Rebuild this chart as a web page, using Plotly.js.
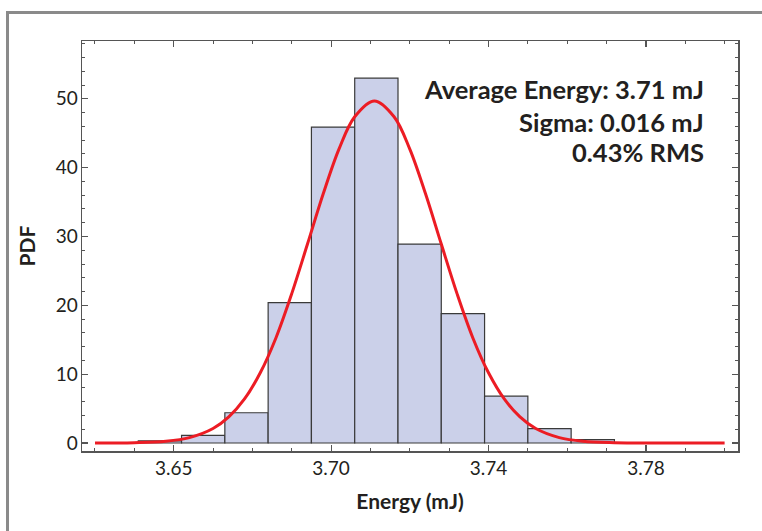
<!DOCTYPE html>
<html>
<head>
<meta charset="utf-8">
<script src="https://cdn.plot.ly/plotly-3.0.1.min.js"></script>
<style>
  html, body { margin: 0; padding: 0; background: #ffffff; }
  #wrap { position: relative; width: 762px; height: 531px; overflow: hidden; }
  #chart { position: absolute; left: 0; top: 0; width: 762px; height: 531px; }
  #panel { position: absolute; left: 6px; top: 11px; width: 800px; height: 600px;
           border-left: 3px solid #8a8a8a; border-top: 3px solid #8a8a8a; pointer-events: none; }
</style>
</head>
<body>
<div id="wrap">
  <div id="chart"></div>
  <div id="panel"></div>
</div>
<script>
// Histogram bins (left edges, mJ) and PDF heights
const binStart = [3.651, 3.662, 3.673, 3.684, 3.695, 3.706, 3.717, 3.728, 3.739, 3.750, 3.761];
const binWidth = 0.011;
const pdfValues = [0.3, 1.1, 4.4, 20.4, 45.9, 53.0, 28.9, 18.8, 6.8, 2.1, 0.5];

// Fitted curve
const fitX = [3.640, 3.650, 3.658, 3.664, 3.670, 3.674, 3.678, 3.682, 3.686, 3.690, 3.694, 3.698, 3.702, 3.706, 3.711,
              3.716, 3.720, 3.724, 3.728, 3.732, 3.736, 3.740, 3.744, 3.748, 3.752, 3.758, 3.764, 3.772, 3.782, 3.800];
const fitY = [0.0, 0.05, 0.25, 0.78, 2.1, 3.8, 6.4, 10.2, 15.3, 21.7, 28.9, 36.2, 42.7, 47.4, 49.7,
              47.4, 42.7, 36.2, 28.9, 21.7, 15.3, 10.2, 6.4, 3.8, 2.1, 0.78, 0.25, 0.05, 0.0, 0.0];

// Axis ticks
const xTickVals = [3.66, 3.70, 3.74, 3.78];
const xTickText = ['3.65', '3.70', '3.74', '3.78'];
const yTickVals = [0, 10, 20, 30, 40, 50];

// Statistics text
const statLines = ['Average Energy: 3.71 mJ', 'Sigma: 0.016 mJ', '0.43% RMS'];

const binCenters = binStart.map(s => s + binWidth / 2);

const FONT = 'Lato, "Open Sans", sans-serif';
const TXT = '#231f20';
const AX = '#555555';

const traces = [
  {
    type: 'bar',
    x: binCenters,
    y: pdfValues,
    width: binWidth,
    marker: { color: '#cbd0e9', line: { color: '#3a3a3a', width: 1.2 } },
    hoverinfo: 'x+y'
  },
  {
    type: 'scatter',
    mode: 'lines',
    x: fitX,
    y: fitY,
    line: { color: '#ec1c24', width: 3, shape: 'spline', smoothing: 1 },
    hoverinfo: 'x+y'
  }
];

const statY = [0.883, 0.8035, 0.729];

const layout = {
  width: 762,
  height: 531,
  margin: { l: 82, r: 24, t: 41, b: 80 },
  paper_bgcolor: '#ffffff',
  plot_bgcolor: '#ffffff',
  showlegend: false,
  bargap: 0,
  font: { family: FONT, color: TXT },
  xaxis: {
    range: [3.6367, 3.8034],
    tickmode: 'array',
    tickvals: xTickVals,
    ticktext: xTickText,
    ticks: 'inside',
    ticklen: 6,
    tickwidth: 1.2,
    tickcolor: AX,
    showline: true,
    linecolor: AX,
    linewidth: 1.5,
    mirror: 'allticks',
    showgrid: false,
    zeroline: false,
    tickfont: { family: FONT, size: 19, color: TXT },
    minor: { dtick: 0.01, tick0: 3.66, ticks: 'inside', ticklen: 3, tickwidth: 1, tickcolor: AX, showgrid: false },
    title: { text: '<b>Energy (mJ)</b>', font: { family: FONT, size: 21, color: TXT }, standoff: 16 }
  },
  yaxis: {
    range: [-1.16, 58.4],
    tickmode: 'array',
    tickvals: yTickVals,
    ticks: 'inside',
    ticklen: 6,
    tickwidth: 1.2,
    tickcolor: AX,
    showline: true,
    linecolor: AX,
    linewidth: 1.5,
    mirror: 'allticks',
    showgrid: false,
    zeroline: false,
    ticklabelstandoff: -1,
    tickfont: { family: FONT, size: 19, color: TXT },
    minor: { dtick: 2, tick0: 0, ticks: 'inside', ticklen: 3, tickwidth: 1, tickcolor: AX, showgrid: false },
    title: { text: '<b>PDF</b>', font: { family: FONT, size: 21, color: TXT }, standoff: 14 }
  },
  annotations: statLines.map((t, i) => ({
    xref: 'paper', yref: 'paper',
    x: 0.951, y: statY[i],
    xanchor: 'right', yanchor: 'middle',
    text: '<b>' + t + '</b>',
    showarrow: false,
    font: { family: FONT, size: 25.5, color: TXT }
  }))
};

Plotly.newPlot('chart', traces, layout, { displayModeBar: false, staticPlot: true });
</script>
</body>
</html>
